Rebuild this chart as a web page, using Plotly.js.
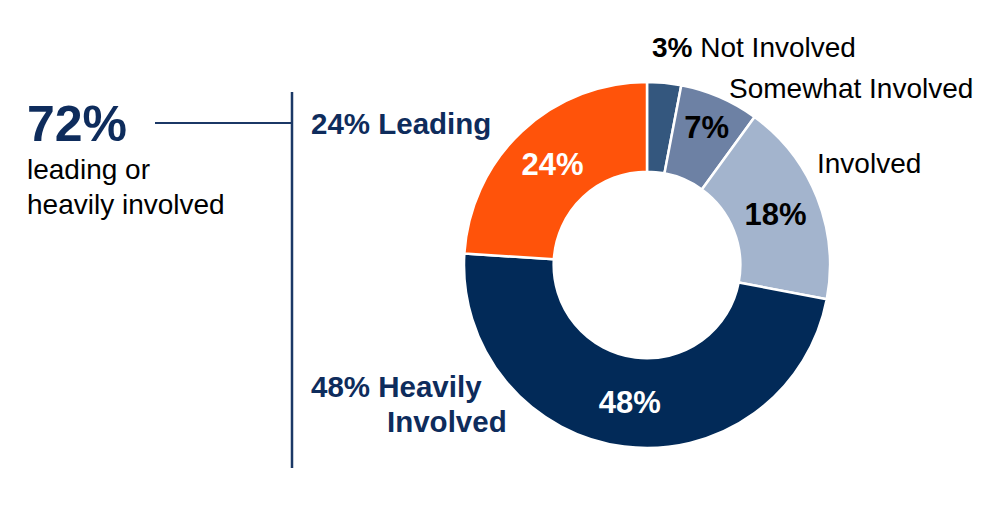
<!DOCTYPE html>
<html>
<head>
<meta charset="utf-8">
<script src="https://cdn.plot.ly/plotly-3.0.1.min.js"></script>
<style>html,body{margin:0;padding:0;background:#fff;}#chart{width:1000px;height:510px;}</style>
</head>
<body>
<div id="chart"></div>
<script>
// Data
var labels = ["Not Involved", "Somewhat Involved", "Involved", "Heavily Involved", "Leading"];
var values = [3, 7, 18, 48, 24];
var sliceColors = ["#34577e", "#6d81a4", "#a3b4cd", "#022a58", "#ff530a"];
var insideTextColors = ["#ffffff", "#000000", "#000000", "#ffffff", "#ffffff"];
var showInside = [false, true, true, true, true];
var combinedShare = values[3] + values[4];

var W = 1000, H = 510;
function px(x) { return x / W; }
function py(y) { return 1 - y / H; }

var cx = 647, cy = 265, R = 183;

var texttemplate = values.map(function (v, i) { return showInside[i] ? "<b>%{value}%</b>" : ""; });

var trace = {
  type: "pie",
  labels: labels,
  values: values,
  sort: false,
  direction: "clockwise",
  rotation: 0,
  hole: 0.51,
  marker: { colors: sliceColors, line: { color: "#ffffff", width: 2.5 } },
  texttemplate: texttemplate,
  textposition: "inside",
  insidetextorientation: "horizontal",
  insidetextfont: { family: "Liberation Sans, Arial, sans-serif", size: 31, color: insideTextColors },
  hoverinfo: "none",
  showlegend: false,
  domain: { x: [px(cx - R), px(cx + R)], y: [py(cy + R), py(cy - R)] }
};

var navy = "#0e2c5c";
var lineColor = "#1b3866";
var fam = "Liberation Sans, Arial, sans-serif";

function ann(text, x, y, size, color, xanchor) {
  return {
    text: text, x: px(x), y: py(y), xref: "paper", yref: "paper",
    xanchor: xanchor || "left", yanchor: "middle", showarrow: false,
    font: { family: fam, size: size, color: color }
  };
}

var annotations = [
  ann("<b>" + combinedShare + "%</b>", 25, 124, 50, navy),
  ann("leading or", 25, 170, 28, "#000000"),
  ann("heavily involved", 25, 204, 28, "#000000"),
  ann("<b>" + values[4] + "% " + labels[4] + "</b>", 309, 123, 29.5, navy),
  ann("<b>" + values[3] + "% Heavily</b>", 309, 386, 29.5, navy),
  ann("<b>Involved</b>", 385, 421, 29.5, navy),
  ann("<b>" + values[0] + "%</b> " + labels[0], 650, 47, 28, "#000000"),
  ann(labels[1], 727, 88, 28, "#000000"),
  ann(labels[2], 815, 164, 28, "#000000")
];

var shapes = [
  { type: "line", xref: "paper", yref: "paper", x0: px(155), x1: px(292), y0: py(123), y1: py(123), line: { color: lineColor, width: 2 } },
  { type: "line", xref: "paper", yref: "paper", x0: px(292), x1: px(292), y0: py(92), y1: py(468), line: { color: lineColor, width: 2.5 } }
];

var layout = {
  width: W, height: H,
  margin: { l: 0, r: 0, t: 0, b: 0 },
  paper_bgcolor: "#ffffff",
  plot_bgcolor: "#ffffff",
  annotations: annotations,
  shapes: shapes,
  showlegend: false
};

Plotly.newPlot("chart", [trace], layout, { displayModeBar: false, staticPlot: true });
</script>
</body>
</html>
